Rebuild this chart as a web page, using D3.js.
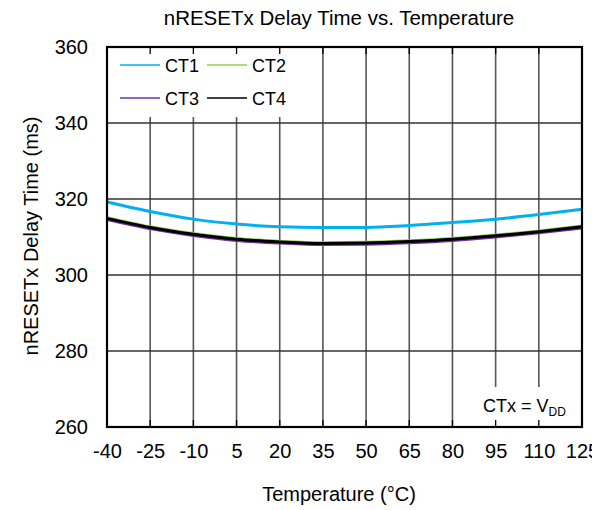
<!DOCTYPE html>
<html><head><meta charset="utf-8">
<script src="https://cdn.jsdelivr.net/npm/d3@7"></script>
<style>body{margin:0;background:#fff}svg{display:block;font-family:"Liberation Sans",Arial,sans-serif}</style>
</head><body>
<svg id="c" width="592" height="510"></svg>
<script>
const temps = [-40,-25,-10,5,20,35,50,65,80,95,110,125];
const ct1 = [319.2,316.7,314.7,313.4,312.7,312.5,312.5,313.0,313.8,314.7,315.9,317.3];
const ct2 = [315.1,312.7,310.9,309.6,308.9,308.5,308.6,309.0,309.6,310.5,311.6,312.9];
const ct3 = [314.6,312.2,310.4,309.1,308.4,308.0,308.1,308.5,309.1,310.0,311.1,312.4];
const ct4 = [314.9,312.5,310.7,309.4,308.7,308.3,308.4,308.8,309.4,310.3,311.4,312.7];
const seriesNames = ["CT1","CT2","CT3","CT4"];
const seriesColors = ["#00B0F0","#92D050","#7030A0","#000000"];
const yTicks = [260,280,300,320,340,360];
const xTicks = [-40,-25,-10,5,20,35,50,65,80,95,110,125];

const FF = "Liberation Sans, Arial, sans-serif";
const svg = d3.select("#c");
const L=107,R=582,T=47,B=427;
const x = d3.scaleLinear().domain([-40,125]).range([L,R]);
const y = d3.scaleLinear().domain([260,360]).range([B,T]);

svg.append("text").attr("x",339).attr("y",25).attr("text-anchor","middle")
  .attr("font-size",20.5).text("nRESETx Delay Time vs. Temperature");

// grid
const g = svg.append("g");
g.selectAll(".vg").data(xTicks.slice(1,-1)).join("line")
  .attr("x1",d=>x(d)).attr("x2",d=>x(d)).attr("y1",T).attr("y2",B)
  .attr("stroke","#555").attr("stroke-width",1.6);
g.selectAll(".hg").data(yTicks.slice(1,-1)).join("line")
  .attr("x1",L).attr("x2",R).attr("y1",d=>y(d)).attr("y2",d=>y(d))
  .attr("stroke","#333").attr("stroke-width",1.4);

// lines
const data = [ct1,ct2,ct3,ct4];
const line = d3.line().x((d,i)=>x(temps[i])).y(d=>y(d)).curve(d3.curveMonotoneX);
data.forEach((s,k)=>{
  svg.append("path").attr("d",line(s)).attr("fill","none")
    .attr("stroke",seriesColors[k]).attr("stroke-width",3);
});

// legend box (covers grid)
svg.append("rect").attr("x",L).attr("y",T).attr("width",183).attr("height",70).attr("fill","#fff");
const leg = [[0,0],[1,0],[0,1],[1,1]];
seriesNames.forEach((n,k)=>{
  const lx = 120 + leg[k][0]*87, ly = 65 + leg[k][1]*33;
  svg.append("line").attr("x1",lx).attr("x2",lx+40).attr("y1",ly).attr("y2",ly)
    .attr("stroke",seriesColors[k]).attr("stroke-width",1.5);
  svg.append("text").attr("x",lx+45).attr("y",ly+6.5).attr("font-size",18).text(n);
});

// annotation box
svg.append("rect").attr("x",466).attr("y",387).attr("width",R-466).attr("height",B-387).attr("fill","#fff");
const ann = svg.append("text").attr("x",483).attr("y",412).attr("font-size",18);
ann.append("tspan").text("CTx = V");
ann.append("tspan").attr("font-size",12).attr("dy",4).text("DD");

// inner ticks top & bottom
xTicks.slice(1,-1).forEach(d=>{
  svg.append("line").attr("x1",x(d)).attr("x2",x(d)).attr("y1",T).attr("y2",T+7).attr("stroke","#000").attr("stroke-width",1.3);
  svg.append("line").attr("x1",x(d)).attr("x2",x(d)).attr("y1",B-7).attr("y2",B).attr("stroke","#000").attr("stroke-width",1.3);
});

// frame
svg.append("rect").attr("x",L).attr("y",T).attr("width",R-L).attr("height",B-T)
  .attr("fill","none").attr("stroke","#000").attr("stroke-width",2.2);

// axes labels
const xa = d3.axisBottom(x).tickValues(xTicks).tickSize(0).tickPadding(17).tickFormat(d=>String(d));
svg.append("g").attr("transform",`translate(0,${B})`).call(xa)
  .call(a=>a.select(".domain").remove())
  .selectAll("text").attr("font-size",20).attr("font-family",FF).attr("fill","#000");
const ya = d3.axisLeft(y).tickValues(yTicks).tickSize(0).tickPadding(19).tickFormat(d=>String(d));
svg.append("g").attr("transform",`translate(${L},0)`).call(ya)
  .call(a=>a.select(".domain").remove())
  .selectAll("text").attr("font-size",20).attr("font-family",FF).attr("fill","#000");

svg.append("text").attr("x",339).attr("y",501).attr("text-anchor","middle").attr("font-size",20)
  .text("Temperature (°C)");
svg.append("text").attr("transform","translate(38,236) rotate(-90)").attr("text-anchor","middle")
  .attr("font-size",20).text("nRESETx Delay Time (ms)");
</script>
</body></html>
